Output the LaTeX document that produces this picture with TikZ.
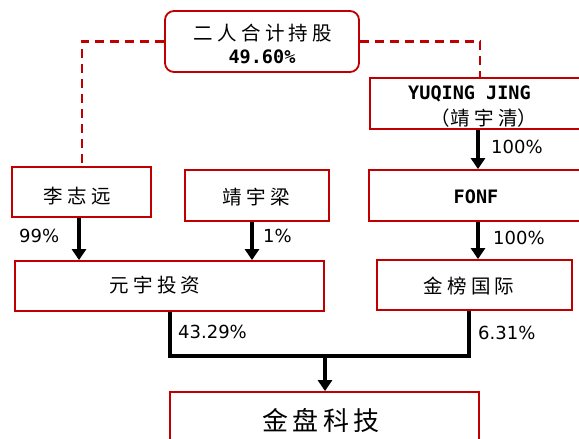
\documentclass[tikz,border=0pt]{standalone}
\usepackage{fontspec}
\setmainfont{DejaVu Sans}
\newfontfamily\cjk{Noto Sans CJK SC}
\newfontfamily\monob{DejaVu Sans Mono Bold}
\usetikzlibrary{arrows.meta}
\definecolor{boxred}{RGB}{192,0,0}
\newcommand\gp{\hspace{4.3pt}}
\begin{document}
\begin{tikzpicture}[x=1pt,y=-1pt,
  box/.style={draw=boxred,line width=1.8pt,inner sep=0pt,fill=white},
  cjktxt/.style={font=\cjk\fontsize{19.5}{23}\selectfont,inner sep=0pt,text=black},
  bigcjk/.style={font=\cjk\fontsize{26}{30}\selectfont,inner sep=0pt,text=black},
  latin/.style={font=\monob\fontsize{18.5}{22}\selectfont,inner sep=0pt},
  pct/.style={font=\fontsize{18}{22}\selectfont,inner sep=0pt,anchor=west},
  arr/.style={line width=4pt,-{Triangle[width=14pt,length=11pt]}},
  conn/.style={line width=4pt,line join=miter},
  dsh/.style={draw=boxred,line width=2.6pt,dash pattern=on 9pt off 6pt}]
\useasboundingbox (0,0) rectangle (579,439);
\clip (0,0) rectangle (579,439);
\fill[white] (0,0) rectangle (579,439);

% coordinates for connectors
\coordinate (dl) at (82,0);
\coordinate (dr) at (480,0);
\coordinate (a1) at (79,0);
\coordinate (a2) at (252,0);
\coordinate (a3) at (478,0);
\coordinate (xl) at (170,356);
\coordinate (xr) at (469,356);
\coordinate (xm) at (325,356);

% boxes
\node[box,rounded corners=9pt,minimum width=194pt,minimum height=61pt] (top) at (262,41.5) {};
\node[box,minimum width=220pt,minimum height=51pt] (yq) at (480,103.5) {};
\node[box,minimum width=139pt,minimum height=50pt] (lzy) at (81.5,192) {};
\node[box,minimum width=144pt,minimum height=51pt] (jyl) at (257,195.5) {};
\node[box,minimum width=221pt,minimum height=51pt] (fonf) at (479.5,195.5) {};
\node[box,minimum width=309pt,minimum height=50pt] (yyt) at (169.5,286) {};
\node[box,minimum width=195pt,minimum height=50pt] (jbg) at (474.5,285) {};
\node[box,minimum width=309pt,minimum height=56pt] (jpk) at (324.5,420) {};

% dashed links
\draw[dsh] (top.west) -| (lzy.north -| dl);
\draw[dsh] (top.east) -| (yq.north -| dr);

% texts
\node[cjktxt] (t-top1) at (263,33) {二\gp 人\gp 合\gp 计\gp 持\gp 股};
\node[latin] (t-top2) at (262,57) {49.60\%};
\node[latin] (t-yq1) at (469.5,94) {YUQING JING};
\node[cjktxt] (t-yq2) at (484,118) {（靖\gp 宇\gp 清）};
\node[cjktxt] (t-lzy) at (77,196) {李\gp 志\gp 远};
\node[cjktxt] (t-jyl) at (256,197) {靖\gp 宇\gp 梁};
\node[latin] (t-fonf) at (476,197) {FONF};
\node[cjktxt] (t-yyt) at (155,285) {元\gp 宇\gp 投\gp 资};
\node[cjktxt] (t-jbg) at (469,286) {金\gp 榜\gp 国\gp 际};
\node[bigcjk] (t-jpk) at (321,420) {金\gp 盘\gp 科\gp 技};

% arrows
\draw[arr] (yq.south -| a3) -- (fonf.north -| a3);
\draw[arr] (lzy.south -| a1) -- (yyt.north -| a1);
\draw[arr] (jyl.south -| a2) -- (yyt.north -| a2);
\draw[arr] (fonf.south -| a3) -- (jbg.north -| a3);
\draw[conn] (yyt.south -| xl) |- (xr) -- (jbg.south -| xr);
\draw[arr] (xm) -- (jpk.north -| xm);

% percentages
\node[pct] (p1) at (491,147) {100\%};
\node[pct] (p2) at (19,236) {99\%};
\node[pct] (p3) at (263,236) {1\%};
\node[pct] (p4) at (493,238) {100\%};
\node[pct] (p5) at (178,332) {43.29\%};
\node[pct] (p6) at (478,333) {6.31\%};
\end{tikzpicture}
\end{document}
